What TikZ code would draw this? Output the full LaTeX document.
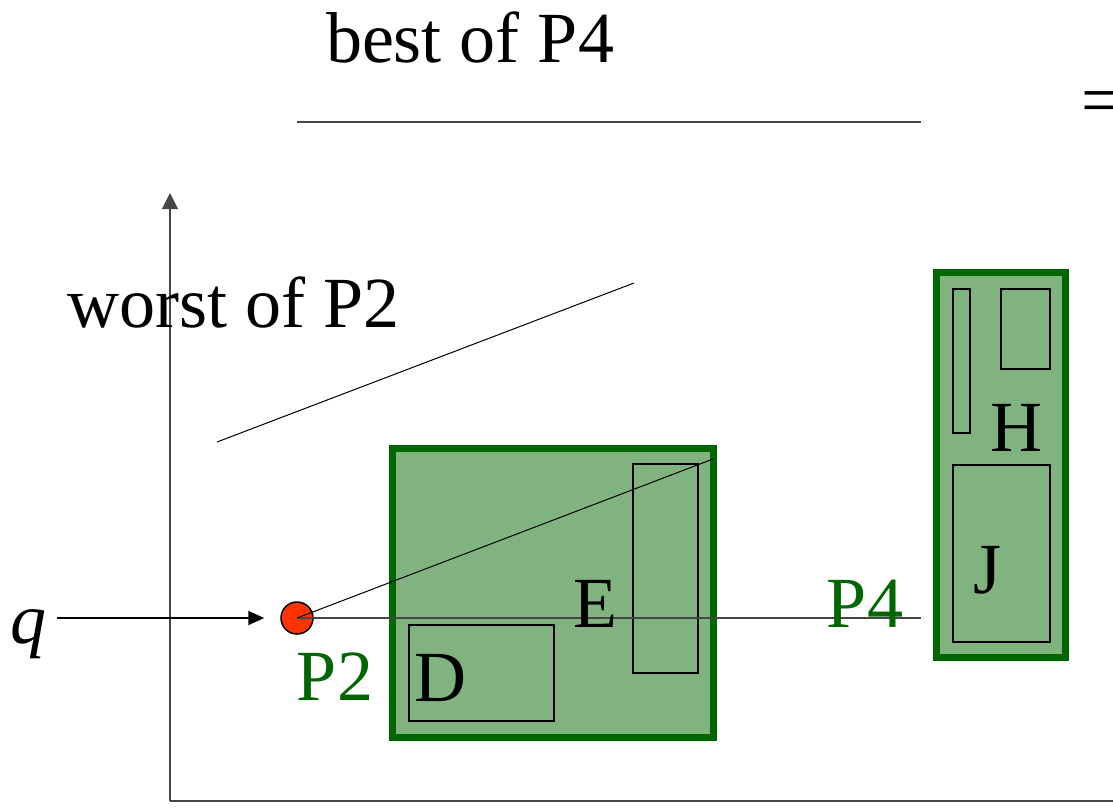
\documentclass[tikz,border=0pt]{standalone}
\usepackage{fontspec}
\setmainfont{Liberation Serif}
\usetikzlibrary{arrows.meta,positioning}
\definecolor{darkgreen}{RGB}{0,102,0}
\definecolor{boxgreen}{RGB}{128,179,128}
\definecolor{dotred}{RGB}{255,51,0}
\definecolor{axisgray}{RGB}{70,70,70}

\begin{document}
\begin{tikzpicture}[
  x=1pt, y=-1pt,
  region/.style={draw=darkgreen, fill=boxgreen, line width=7pt, inner sep=0pt},
  cell/.style={draw, line width=1.5pt, inner sep=0pt},
  lbl/.style={inner sep=0pt, anchor=base, font=\fontsize{72}{80}\selectfont},
  glbl/.style={lbl, text=darkgreen},
  arrow/.style={-{Triangle[length=16pt, width=14pt]}, line width=2pt},
  axis/.style={draw=axisgray, line width=1.2pt},
  guide/.style={draw=axisgray, line width=1.2pt},
  thin/.style={line width=1pt},
]
  \useasboundingbox (0,0) rectangle (1113,807);

  % Axes
  \coordinate (origin) at (170,801);
  \coordinate (ytop) at (170,193);
  \coordinate (xend) at (1113,801);
  \draw[axis, -{Triangle[length=16pt, width=16pt]}] (origin) -- (ytop);
  \draw[axis] (origin) -- (xend);

  % Regions
  \node[region, minimum width=321pt, minimum height=289pt] (P2box) at (553,593) {};
  \node[region, minimum width=129pt, minimum height=385pt] (P4box) at (1001,465) {};

  % Cells
  \node[cell, minimum width=65pt, minimum height=209pt] (Ebox) at (665.5,568.5) {};
  \node[cell, minimum width=145pt, minimum height=96pt] (Dbox) at (481.5,673) {};
  \node[cell, minimum width=17pt, minimum height=144pt] (Hthin) at (961.5,361) {};
  \node[cell, minimum width=49pt, minimum height=80pt] (Hbox) at (1025.5,329) {};
  \node[cell, minimum width=97pt, minimum height=177pt] (Jbox) at (1001.5,553.5) {};

  % Query point
  \node[circle, draw, fill=dotred, line width=1.5pt, minimum size=32pt, inner sep=0pt] (dot) at (297,618) {};
  \node[lbl, font=\fontsize{72}{80}\selectfont\itshape] (q) at (28,643) {q};
  \coordinate (hend) at (921,618);
  \coordinate (far) at (713,459);
  \draw[guide] (dot.center) -- (hend);
  \draw[thin] (dot.center) -- (far);
  \draw[arrow, shorten <=11pt, shorten >=16pt] (q.east |- dot) -- (dot.west);

  % Labels
  \node[lbl] (Elbl) at (595,627) {E};
  \node[lbl] (Dlbl) at (440,701) {D};
  \node[lbl] (Hlbl) at (1016,451) {H};
  \node[lbl] (Jlbl) at (987,593) {J};
  \node[glbl] (P2lbl) at (335,700) {P2};
  \node[glbl] (P4lbl) at (865,627) {P4};

  % Ratio
  \node[lbl] (best) at (470,62) {best of P4};
  \coordinate (frac1) at (297,122);
  \coordinate (frac2) at (921,122);
  \draw[guide] (frac1) -- (frac2);
  \node[lbl, anchor=base west] (eq) at (1081,124) {=};
  \node[lbl] (worst) at (234,327) {worst of P2};
  \coordinate (wl1) at (217,442);
  \coordinate (wl2) at (634,283);
  \draw[thin] (wl1) -- (wl2);

\end{tikzpicture}
\end{document}
